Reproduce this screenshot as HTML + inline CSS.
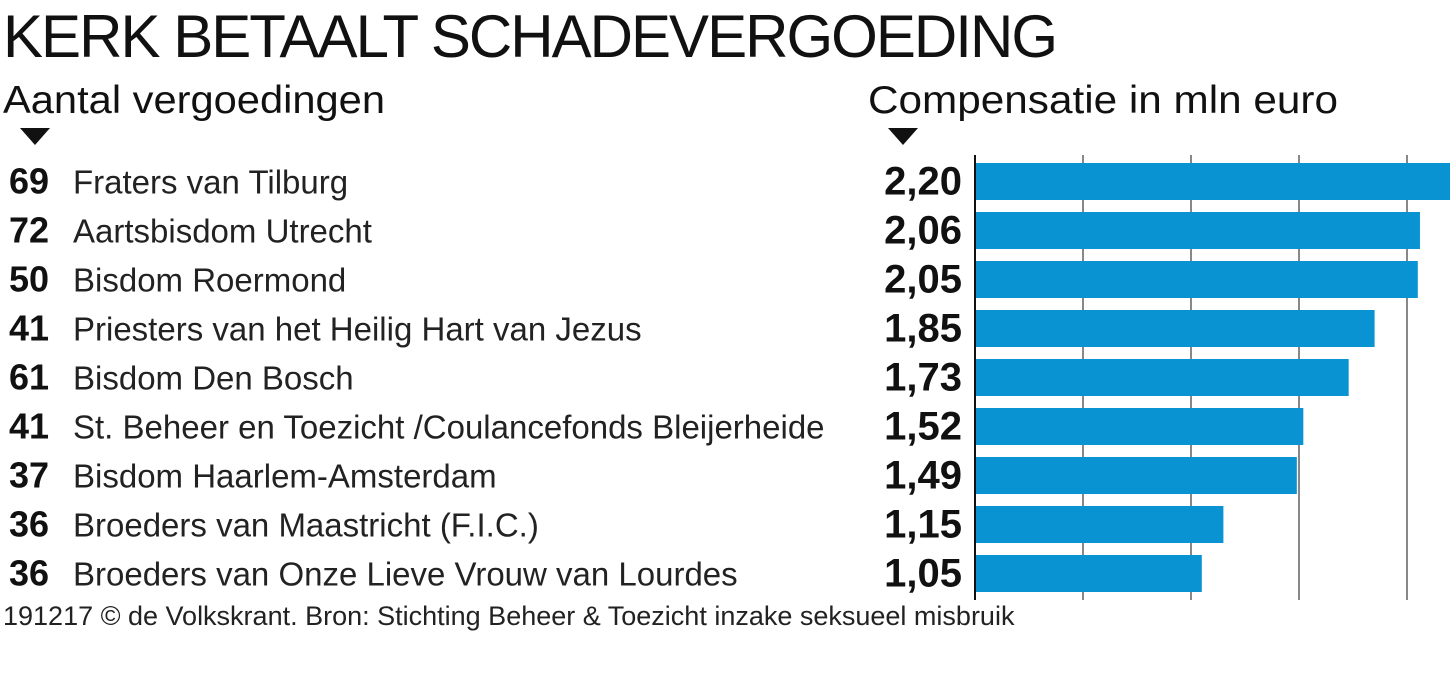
<!DOCTYPE html>
<html><head><meta charset="utf-8"><style>
html,body{margin:0;padding:0;background:#fff;}
svg{display:block;font-family:"Liberation Sans",sans-serif;}
</style></head><body>
<svg id="chart" width="1450" height="692">
<text x="3" y="57" font-size="60" fill="#111" textLength="1055" lengthAdjust="spacing">KERK BETAALT SCHADEVERGOEDING</text>
<text x="3" y="113" font-size="39" fill="#111" textLength="382" lengthAdjust="spacingAndGlyphs">Aantal vergoedingen</text>
<text x="868" y="113" font-size="39" fill="#111" textLength="470" lengthAdjust="spacingAndGlyphs">Compensatie in mln euro</text>
<polygon points="20,128 50,128 35,145" fill="#111"/>
<polygon points="888,128 918,128 903,145" fill="#111"/>
<g id="grid"></g><g id="rows"></g>
<text x="3" y="625" font-size="27" fill="#222">191217 © de Volkskrant. Bron: Stichting Beheer &amp; Toezicht inzake seksueel misbruik</text>
</svg>
<script>
const categories = ["Fraters van Tilburg","Aartsbisdom Utrecht","Bisdom Roermond","Priesters van het Heilig Hart van Jezus","Bisdom Den Bosch","St. Beheer en Toezicht /Coulancefonds Bleijerheide","Bisdom Haarlem-Amsterdam","Broeders van Maastricht (F.I.C.)","Broeders van Onze Lieve Vrouw van Lourdes"];
const counts = [69,72,50,41,61,41,37,36,36];
const amounts = [2.20,2.06,2.05,1.85,1.73,1.52,1.49,1.15,1.05];
const gridTicks = [0.5,1.0,1.5,2.0];

const NS="http://www.w3.org/2000/svg";
const x0=975, pxPerUnit=216, rowTop=163, rowStep=49, barH=37;
const xs=v=>x0+v*pxPerUnit;
const ys=i=>rowTop+i*rowStep;
const grid=document.getElementById('grid'), rows=document.getElementById('rows');
function mk(tag,attrs,parent){const e=document.createElementNS(NS,tag);for(const k in attrs)e.setAttribute(k,attrs[k]);parent.appendChild(e);return e;}
const gBottom=ys(amounts.length-1)+barH+8;
gridTicks.forEach(t=>{
  const l=mk('line',{x1:xs(t),x2:xs(t),y1:155,y2:gBottom,stroke:'#888','stroke-width':2},grid);
  
  
});
const ax=mk('line',{x1:x0,x2:x0,y1:155,y2:gBottom,stroke:'#111','stroke-width':2},grid);


categories.forEach((c,i)=>{
  const cy=ys(i)+barH/2, base=cy+12;
  const b=mk('rect',{x:x0+1,y:ys(i),width:Math.max(0,xs(amounts[i])-x0-1),height:barH,fill:'#0993d3'},rows);
  
  
  const n=mk('text',{x:9,y:base,'font-size':36,'font-weight':'bold',fill:'#111'},rows);
  n.textContent=counts[i];
  
  
  const t=mk('text',{x:73,y:base,'font-size':33,fill:'#222'},rows);
  t.textContent=c;
  
  
  const v=mk('text',{x:962,y:base+1,'font-size':40,'font-weight':'bold',fill:'#111','text-anchor':'end'},rows);
  v.textContent=amounts[i].toFixed(2).replace('.',',');
  
  
});
</script>
</body></html>
